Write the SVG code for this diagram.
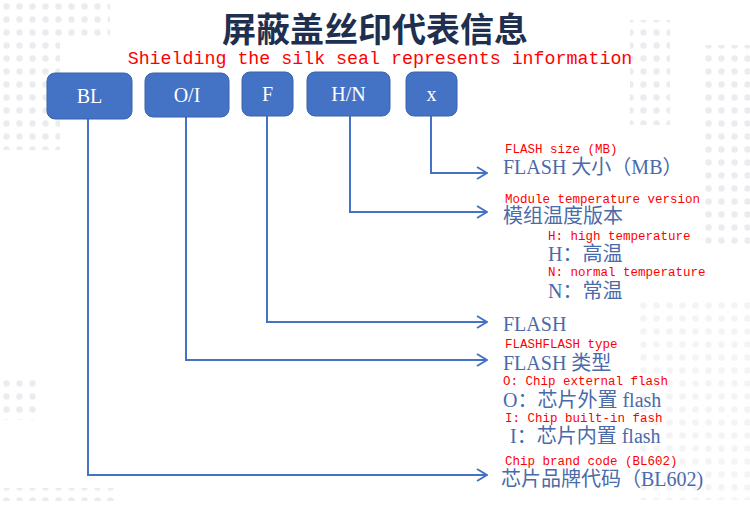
<svg xmlns="http://www.w3.org/2000/svg" width="750" height="509" viewBox="0 0 750 509">
<style>
.box{fill:#4472c4;stroke:#3b63ab;stroke-width:1}
.bt{font-family:"Liberation Serif","Times New Roman",serif;font-size:20px;fill:#ffffff;text-anchor:middle}
.con{fill:none;stroke:#4472c4;stroke-width:2}
.red{font-family:"Liberation Mono","DejaVu Sans Mono","Noto Sans CJK SC",monospace;font-size:12.5px;fill:#ff0000}
.blue{font-family:"Liberation Serif","Noto Sans CJK SC",serif;font-size:20px;fill:#4a6aaa}
</style>
<defs>
<pattern id="dots" width="13" height="13" patternUnits="userSpaceOnUse">
<circle cx="6.5" cy="6.5" r="3.2" fill="#eaecf0"/>
</pattern>
<marker id="arr" viewBox="0 0 12 14" refX="11" refY="7" markerWidth="12" markerHeight="14" markerUnits="userSpaceOnUse" orient="auto">
<polyline points="1,1 11,7 1,13" fill="none" stroke="#4472c4" stroke-width="2"/>
</marker>
</defs>
<rect width="750" height="509" fill="#ffffff"/>
<g id="background">
<rect x="0" y="0" width="110" height="40" fill="url(#dots)"/>
<rect x="0" y="40" width="60" height="110" fill="url(#dots)"/>
<rect x="0" y="380" width="40" height="40" fill="url(#dots)"/>
<rect x="0" y="488" width="120" height="13" fill="url(#dots)"/>
<rect x="630" y="20" width="40" height="105" fill="url(#dots)"/>
<rect x="700" y="45" width="50" height="200" fill="url(#dots)"/>
<rect x="640" y="300" width="110" height="200" fill="url(#dots)" opacity="0.6"/>
</g>
<g id="title">
<text x="375" y="42" font-family="'Noto Sans CJK SC',sans-serif" font-size="34" font-weight="bold" fill="#1e2f4f" text-anchor="middle">屏蔽盖丝印代表信息</text>
<text x="380" y="64" font-family="'Liberation Mono','DejaVu Sans Mono',monospace" font-size="18.3" fill="#ff0000" text-anchor="middle">Shielding the silk seal represents information</text>
</g>
<g id="connectors">
<polyline class="con" points="88,119 88,475 487,475" marker-end="url(#arr)"/>
<polyline class="con" points="186,117 186,360 487,360" marker-end="url(#arr)"/>
<polyline class="con" points="267,116 267,322 487,322" marker-end="url(#arr)"/>
<polyline class="con" points="350,116 350,212 487,212" marker-end="url(#arr)"/>
<polyline class="con" points="431,116 431,173 487,173" marker-end="url(#arr)"/>
</g>
<g id="node-BL"><rect class="box" x="47" y="73" width="85" height="46" rx="8"/><text class="bt" x="89.5" y="103">BL</text></g>
<g id="node-OI"><rect class="box" x="145" y="73" width="84" height="44" rx="8"/><text class="bt" x="187" y="102">O/I</text></g>
<g id="node-F"><rect class="box" x="242" y="72" width="51" height="44" rx="8"/><text class="bt" x="267.5" y="101">F</text></g>
<g id="node-HN"><rect class="box" x="307" y="72" width="83" height="44" rx="8"/><text class="bt" x="348.5" y="101">H/N</text></g>
<g id="node-x"><rect class="box" x="406" y="72" width="51" height="44" rx="8"/><text class="bt" x="431.5" y="101">x</text></g>
<g id="labels">
<text class="red" x="505" y="153">FLASH size (MB)</text>
<text class="blue" x="503" y="174">FLASH 大小（MB）</text>
<text class="red" x="505" y="203">Module temperature version</text>
<text class="blue" x="503" y="223">模组温度版本</text>
<text class="red" x="548" y="240">H: high temperature</text>
<text class="blue" x="548" y="261">H：高温</text>
<text class="red" x="548" y="276">N: normal temperature</text>
<text class="blue" x="548" y="298">N：常温</text>
<text class="blue" x="503" y="331">FLASH</text>
<text class="red" x="505" y="348">FLASHFLASH type</text>
<text class="blue" x="503" y="370">FLASH 类型</text>
<text class="red" x="503" y="385">O: Chip external flash</text>
<text class="blue" x="503" y="407">O：芯片外置 flash</text>
<text class="red" x="505" y="422">I: Chip built-in fash</text>
<text class="blue" x="510" y="443">I：芯片内置 flash</text>
<text class="red" x="505" y="465">Chip brand code (BL602)</text>
<text class="blue" x="501" y="486">芯片品牌代码（BL602)</text>
</g>
</svg>
